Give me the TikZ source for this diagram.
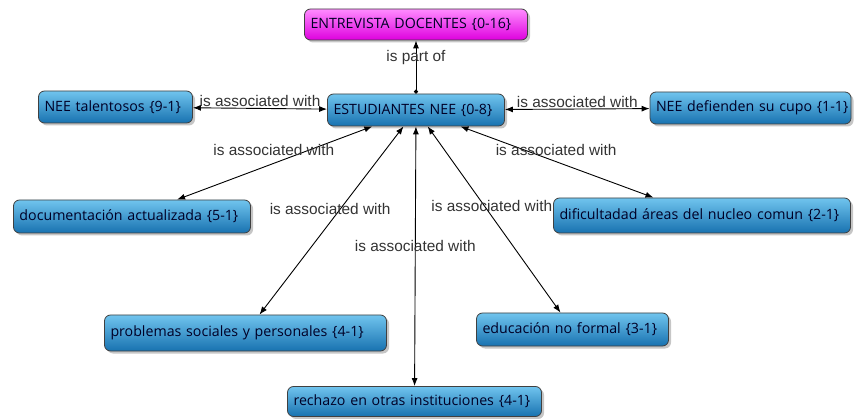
\documentclass[tikz,border=0pt]{standalone}
\usepackage{fontspec}
\setmainfont{Open Sans}
\newfontfamily\lblfont{Liberation Sans}
\usetikzlibrary{arrows.meta,shadows}
\definecolor{boxtop}{RGB}{112,196,238}
\definecolor{boxbot}{RGB}{24,114,176}
\definecolor{magtop}{RGB}{255,140,255}
\definecolor{magbot}{RGB}{222,0,222}
\begin{document}
\begin{tikzpicture}[x=1pt,y=-1pt,
    concept/.style={draw=black!75, line width=0.8pt, rounded corners=6pt,
        top color=boxtop, bottom color=boxbot, text=black!85!blue,
        font=\fontsize{14.2}{17}\selectfont, inner xsep=6pt, inner ysep=0pt, align=left,
        execute at begin node={\exhyphenpenalty=10000\hyphenpenalty=10000},
        drop shadow={shadow xshift=2.5pt, shadow yshift=-2.5pt, opacity=0.45}},
    lbl/.style={font=\lblfont\fontsize{15.4}{17}\selectfont, text=black!80, inner sep=1pt},
    link/.style={{Latex[length=8pt,width=6pt]}-{Latex[length=8pt,width=6pt]}, line width=0.9pt},
    partof/.style={{Circle[length=4pt]}-{Latex[length=8pt,width=6pt]}, line width=0.9pt}]
        \useasboundingbox (0,0) rectangle (856,419);
        % concepts
        \node[concept, top color=magtop, bottom color=magbot, text width=211pt, minimum height=31pt] (A) at (416,24.5) {ENTREVISTA DOCENTES \{0-16\}};
        \node[concept, text width=165pt, minimum height=32pt] (B) at (416,110) {ESTUDIANTES NEE \{0-8\}};
        \node[concept, text width=142pt, minimum height=32pt] (C) at (115.5,107) {NEE talentosos \{9-1\}};
        \node[concept, text width=189pt, minimum height=32pt] (D) at (750.5,108) {\mbox{NEE defienden su cupo \{1-1\}}};
        \node[concept, text width=225pt, minimum height=33pt] (E) at (132,216.5) {documentación actualizada \{5-1\}};
        \node[concept, text width=285pt, minimum height=35pt] (F) at (702,215.5) {dificultadad áreas del nucleo comun \{2-1\}};
        \node[concept, text width=270pt, minimum height=36pt] (G) at (245.5,333) {problemas sociales y personales \{4-1\}};
        \node[concept, text width=180pt, minimum height=33pt] (H) at (572.5,329.5) {educación no formal \{3-1\}};
        \node[concept, text width=242pt, minimum height=30pt] (I) at (414.5,401.5) {rechazo en otras instituciones \{4-1\}};
        % links
        \draw (B) edge[partof] node[lbl, pos=0.68]{is part of} (A);
        \draw (C) edge[link] node[lbl, midway, above]{is associated with} (B);
        \draw (B) edge[link] node[lbl, midway, above]{is associated with} (D);
        \draw (B) edge[link] node[lbl, pos=0.32, xshift=-36pt]{is associated with} (E);
        \draw (B) edge[link] node[lbl, pos=0.33, xshift=32pt]{is associated with} (F);
        \draw (B) edge[link] node[lbl, pos=0.44, xshift=-10pt]{is associated with} (G);
        \draw (B) edge[link] node[lbl, pos=0.43, xshift=7pt]{is associated with} (H);
        \draw (B) edge[link] node[lbl, pos=0.46]{is associated with} (I);
\end{tikzpicture}
\end{document}
